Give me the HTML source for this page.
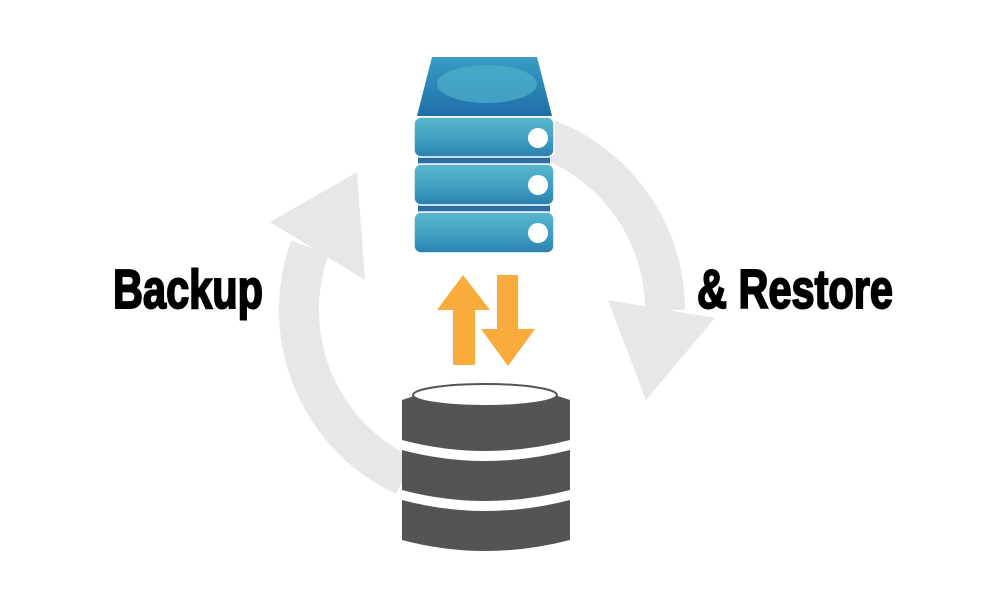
<!DOCTYPE html>
<html><head><meta charset="utf-8"><style>html,body{margin:0;padding:0;background:#fff}svg{display:block}</style></head>
<body>
<svg width="1000" height="600" viewBox="0 0 1000 600" xmlns="http://www.w3.org/2000/svg">
<defs>
<linearGradient id="slab" x1="0" y1="0" x2="0" y2="1">
<stop offset="0" stop-color="#5bb8cf"/><stop offset="0.6" stop-color="#3d9cbf"/><stop offset="1" stop-color="#2a7fae"/>
</linearGradient>
<linearGradient id="top" x1="0" y1="0" x2="0" y2="1">
<stop offset="0" stop-color="#3a9dc4"/><stop offset="1" stop-color="#1d6ea8"/>
</linearGradient>
</defs>
<!-- grey circular arrows -->
<path d="M404.7,475.9 A183,183 0 0 1 310,247.4" fill="none" stroke="#e6e7e8" stroke-width="40"/>
<polygon points="357,172 270,222 365,280" fill="#e6e7e8"/>
<path d="M547.6,139.2 A183,183 0 0 1 665,310" fill="none" stroke="#e6e7e8" stroke-width="40"/>
<polygon points="608,300 715,318 646,400" fill="#e6e7e8"/>
<!-- server -->
<path d="M432,57 L537,57 L552,116 L417,116 Z" fill="url(#top)"/>
<ellipse cx="487" cy="84" rx="50" ry="19" fill="#4fb0cc" opacity="0.7"/>
<rect x="418" y="157" width="132" height="7" fill="#2a6fa8"/>
<rect x="418" y="205" width="132" height="7" fill="#2a6fa8"/>
<rect x="414" y="117" width="140" height="40" rx="7" fill="url(#slab)" stroke="#fff" stroke-width="1.5"/>
<rect x="414" y="164" width="140" height="41" rx="7" fill="url(#slab)" stroke="#fff" stroke-width="1.5"/>
<rect x="414" y="212" width="140" height="41" rx="7" fill="url(#slab)" stroke="#fff" stroke-width="1.5"/>
<circle cx="538" cy="138" r="10" fill="#fff"/>
<circle cx="538" cy="185" r="10" fill="#fff"/>
<circle cx="538" cy="233" r="10" fill="#fff"/>
<!-- orange arrows -->
<polygon points="463,275 490,310 475,310 475,365 453,365 453,310 437,310" fill="#f9ab3b"/>
<polygon points="497,275 518,275 518,329 535,329 508,366 481,329 497,329" fill="#f9ab3b"/>
<!-- database -->
<path d="M402,400 Q485,370 570,400 L570,440 Q485,462 402,440 Z" fill="#545456"/>
<ellipse cx="485" cy="395" rx="72" ry="11" fill="#fff" stroke="#545456" stroke-width="2"/>
<path d="M402,450 Q485,472 570,450 L570,490 Q485,512 402,490 Z" fill="#545456"/>
<path d="M402,500 Q485,522 570,500 L570,540 Q485,562 402,540 Z" fill="#545456"/>
<!-- text -->
<text x="113" y="308" font-family="Liberation Sans, sans-serif" font-weight="bold" font-size="55" textLength="150" lengthAdjust="spacingAndGlyphs" fill="#000" stroke="#000" stroke-width="2">Backup</text>
<text x="697" y="308" font-family="Liberation Sans, sans-serif" font-weight="bold" font-size="55" textLength="196" lengthAdjust="spacingAndGlyphs" fill="#000" stroke="#000" stroke-width="2">&amp; Restore</text>
</svg>
</body></html>
